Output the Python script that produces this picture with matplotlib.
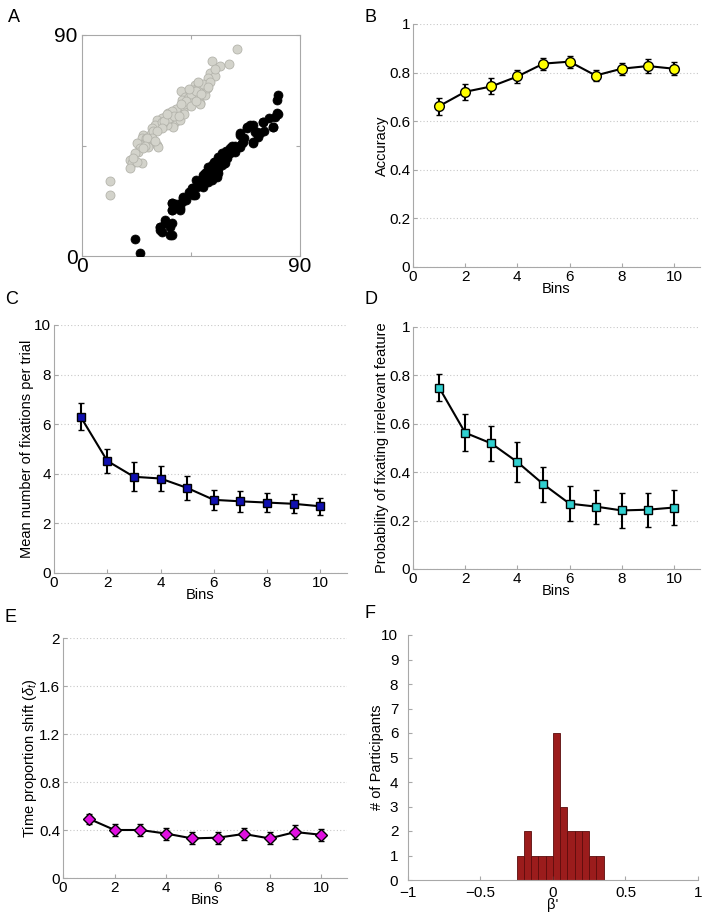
import numpy as np
import matplotlib
matplotlib.use('Agg')
import matplotlib.pyplot as plt

plt.rcParams['font.family'] = ['Liberation Sans', 'DejaVu Sans']
plt.rcParams['mathtext.fontset'] = 'custom'
plt.rcParams['mathtext.rm'] = 'Liberation Sans'
plt.rcParams['mathtext.it'] = 'Liberation Sans:italic'

# Panel A: scatter clusters
gray_x = [63.9, 53.8, 57.0, 60.8, 52.8, 54.9, 51.9, 40.9, 46.7, 48.0, 46.0, 51.7, 50.8, 44.6,
          42.5, 43.9, 46.6, 45.3, 48.7, 43.2, 41.1, 40.5, 41.8, 39.1, 37.7, 35.6, 34.3, 35.0,
          37.0, 38.4, 40.5, 32.9, 32.2, 30.8, 37.7, 35.0, 33.6, 30.1, 28.8, 29.4, 28.1, 27.4,
          25.3, 24.6, 26.0, 28.8, 30.8, 27.4, 24.6, 22.6, 24.0, 23.3, 31.5, 19.8, 21.2, 20.5,
          24.6, 19.8, 22.6, 11.7, 11.7, 48.8, 51.5, 47.4, 44.0, 42.0, 36.5, 33.0, 26.5, 29.5,
          45.0, 47.0, 49.0, 50.0, 43.0, 45.0, 47.0, 39.0, 37.0, 36.0, 38.0, 34.0, 33.0, 31.0,
          29.0, 27.0, 26.0, 25.0, 22.0, 21.0, 53.0, 55.0, 42.0, 40.0, 30.0, 35.0, 44.0, 48.0,
          52.0, 41.0]
gray_y = [84.3, 79.4, 77.4, 78.2, 74.4, 73.3, 72.4, 67.3, 69.6, 68.9, 67.6, 68.3, 65.6, 66.2,
          64.9, 64.2, 64.9, 62.9, 62.2, 61.5, 63.5, 60.8, 59.5, 58.8, 57.4, 58.1, 56.7, 55.4,
          55.4, 54.7, 55.4, 56.1, 53.4, 55.4, 52.7, 53.4, 54.0, 53.4, 52.0, 50.6, 49.3, 47.2,
          49.3, 47.9, 46.6, 46.6, 45.2, 44.5, 45.2, 45.9, 43.9, 42.5, 44.5, 39.1, 38.7, 37.8,
          37.8, 35.7, 38.4, 30.5, 24.8, 62.1, 68.3, 65.5, 63.0, 62.0, 56.0, 54.5, 48.0, 51.0,
          66.0, 67.0, 66.0, 70.0, 63.0, 61.0, 63.0, 60.0, 59.0, 56.0, 57.0, 55.0, 52.0, 51.0,
          48.0, 48.0, 45.0, 44.0, 42.0, 40.0, 71.0, 76.0, 58.0, 57.0, 47.0, 58.0, 68.0, 71.0,
          69.0, 62.0]

black_x = [80.4, 79.0, 74.9, 69.4, 68.0, 71.4, 72.8, 70.7, 65.2, 64.5, 61.8, 60.4, 57.7, 63.2,
           59.0, 57.0, 54.9, 53.5, 55.6, 57.7, 52.2, 50.8, 53.5, 54.9, 51.5, 49.4, 53.5, 55.6,
           48.0, 46.0, 50.1, 46.7, 41.8, 37.0, 40.5, 37.0, 34.3, 37.0, 32.2, 32.9, 37.0, 24.0,
           22.0, 81.0, 80.6, 81.0, 79.7, 78.8, 74.9, 70.7, 68.0, 72.1, 70.7, 73.5, 65.2, 65.2,
           62.5, 61.1, 58.4, 56.3, 57.0, 54.3, 52.2, 55.6, 52.9, 50.1, 49.5, 47.4, 45.3, 46.0,
           41.9, 37.1, 37.1, 41.2, 40.5, 32.3, 34.3, 36.4, 36.4, 32.3, 56.0, 58.5, 60.0, 55.0,
           51.0, 53.0, 59.5, 62.0, 66.5, 48.5, 50.0, 52.0, 54.0, 56.0, 58.0, 60.0, 62.0, 48.0,
           51.0, 53.0, 55.0, 57.0, 59.0, 61.0, 63.0, 49.0, 47.0, 52.0, 54.0, 56.0, 66.0, 67.0,
           75.0, 77.0, 44.0, 43.0, 39.0]
black_y = [58.1, 52.7, 54.7, 53.3, 52.0, 50.6, 48.6, 46.6, 49.3, 44.5, 43.8, 42.5, 41.8, 42.5,
           39.8, 39.1, 38.4, 37.1, 36.4, 37.1, 35.0, 33.7, 33.7, 34.3, 31.6, 31.0, 31.0, 32.3,
           28.9, 27.6, 28.2, 24.9, 23.5, 21.5, 19.4, 18.7, 14.7, 13.3, 11.9, 9.9, 8.6, 1.1,
           6.8, 65.5, 63.5, 58.0, 56.7, 52.4, 54.7, 53.3, 52.6, 50.6, 45.9, 49.9, 49.9, 44.5,
           43.8, 41.8, 40.4, 40.4, 37.7, 38.4, 36.4, 36.4, 33.6, 33.0, 30.3, 28.2, 27.5, 24.8,
           24.2, 21.7, 18.7, 22.1, 18.7, 11.9, 13.3, 11.9, 8.5, 10.6, 35.5, 38.0, 40.0, 35.0,
           32.5, 35.8, 42.8, 45.0, 46.5, 30.0, 32.0, 33.0, 35.0, 37.0, 39.0, 41.0, 43.0, 30.0,
           34.0, 36.0, 38.0, 40.0, 38.0, 44.0, 45.0, 29.0, 31.0, 30.0, 32.0, 34.0, 46.0, 48.0,
           51.0, 56.0, 26.0, 23.0, 21.0]

bins = np.arange(1, 11)

# Panel B: accuracy
acc = [0.662, 0.721, 0.743, 0.784, 0.837, 0.845, 0.788, 0.816, 0.827, 0.816]
acc_err = [0.035, 0.032, 0.033, 0.026, 0.025, 0.025, 0.022, 0.025, 0.029, 0.027]

# Panel C: fixations per trial
fix = [6.30, 4.52, 3.88, 3.81, 3.43, 2.95, 2.89, 2.84, 2.79, 2.69]
fix_err = [0.54, 0.49, 0.58, 0.50, 0.50, 0.41, 0.43, 0.37, 0.38, 0.35]

# Panel D: probability of fixating irrelevant feature
prob = [0.750, 0.563, 0.519, 0.442, 0.350, 0.270, 0.258, 0.242, 0.245, 0.254]
prob_err = [0.055, 0.077, 0.071, 0.081, 0.073, 0.072, 0.070, 0.071, 0.071, 0.071]

# Panel E: time proportion shift
shift = [0.494, 0.400, 0.400, 0.370, 0.330, 0.336, 0.367, 0.330, 0.383, 0.360]
shift_err = [0.040, 0.050, 0.050, 0.050, 0.050, 0.050, 0.050, 0.050, 0.055, 0.050]

# Panel F: histogram of beta'
hist_edges = [-0.25, -0.20, -0.15, -0.10, -0.05, 0.00, 0.05, 0.10, 0.15, 0.20, 0.25, 0.30, 0.35]
hist_counts = [1, 2, 1, 1, 1, 6, 3, 2, 2, 2, 1, 1]

spine_col = '#a8a8a8'
grid_col = '#c8c8c8'

fig = plt.figure(figsize=(7.05, 9.15), dpi=100)
W, H = 705.0, 915.0


def add_ax(left, right, top, bottom):
    return fig.add_axes([left / W, 1 - bottom / H, (right - left) / W, (bottom - top) / H])


def style(ax, grid=True):
    for s in ['top', 'right']:
        ax.spines[s].set_visible(False)
    for s in ['left', 'bottom']:
        ax.spines[s].set_color(spine_col)
        ax.spines[s].set_linewidth(0.8)
    ax.tick_params(direction='in', length=3, color=spine_col, labelsize=11, pad=2)
    if grid:
        ax.yaxis.grid(True, linestyle=(0, (1, 2)), color=grid_col, linewidth=0.8)
        ax.set_axisbelow(True)


def line_panel(ax, y, err, marker, color, ms):
    ax.errorbar(bins, y, yerr=err, color='black', lw=1.5, elinewidth=1.5, capsize=2.5,
                capthick=1.5, marker=marker, markersize=ms, markerfacecolor=color,
                markeredgecolor='black', markeredgewidth=1.0, zorder=3)
    ax.set_xlim(0, 11)
    ax.set_xticks([0, 2, 4, 6, 8, 10])
    ax.set_xlabel('Bins', fontsize=10.5, labelpad=-1)


# A
axA = add_ax(82, 300, 35, 256)
axA.scatter(gray_x, gray_y, s=42, facecolor='#d3d3cb', edgecolor='#b4b4ac', linewidth=0.6, zorder=2)
axA.scatter(black_x, black_y, s=42, facecolor='black', edgecolor='black', linewidth=0.5, zorder=3)
axA.set_xlim(0, 90)
axA.set_ylim(0, 90)
axA.set_xticks([0, 45, 90])
axA.set_yticks([0, 45, 90])
axA.set_xticklabels(['0', '', '90'])
axA.set_yticklabels(['0', '', '90'])
for s in axA.spines.values():
    s.set_color(spine_col)
    s.set_linewidth(0.8)
axA.tick_params(direction='in', length=3, color=spine_col, labelsize=15, pad=1, top=True, right=True)
axA.tick_params(axis='y', pad=3)

# B
axB = add_ax(413, 700, 24, 267)
style(axB)
line_panel(axB, acc, acc_err, 'o', '#ffff00', 7)
axB.set_ylim(0, 1)
axB.set_yticks([0, 0.2, 0.4, 0.6, 0.8, 1])
axB.set_yticklabels(['0', '0.2', '0.4', '0.6', '0.8', '1'])
axB.set_ylabel('Accuracy', fontsize=10.5, labelpad=0)

# C
axC = add_ax(54, 347, 325, 573)
style(axC)
line_panel(axC, fix, fix_err, 's', '#1010b0', 6)
axC.set_ylim(0, 10)
axC.set_yticks([0, 2, 4, 6, 8, 10])
axC.set_ylabel('Mean number of fixations per trial', fontsize=10.5, labelpad=0)

# D
axD = add_ax(413, 700, 327, 569)
style(axD)
line_panel(axD, prob, prob_err, 's', '#30d0d0', 6)
axD.set_ylim(0, 1)
axD.set_yticks([0, 0.2, 0.4, 0.6, 0.8, 1])
axD.set_yticklabels(['0', '0.2', '0.4', '0.6', '0.8', '1'])
axD.set_ylabel('Probability of fixating irrelevant feature', fontsize=10.5, labelpad=0)

# E
axE = add_ax(63, 347, 638, 878)
style(axE)
line_panel(axE, shift, shift_err, 'D', '#e010e0', 6)
axE.set_ylim(0, 2)
axE.set_yticks([0, 0.4, 0.8, 1.2, 1.6, 2])
axE.set_yticklabels(['0', '0.4', '0.8', '1.2', '1.6', '2'])
axE.set_ylabel(r'Time proportion shift ($\delta_t$)', fontsize=10.5, labelpad=0)

# F
axF = add_ax(408, 698, 635, 880)
style(axF, grid=False)
axF.stairs(hist_counts, hist_edges, fill=True, facecolor='#9b1c1c', edgecolor='#5a0c0c',
           linewidth=0.6)
for e, c0, c1 in zip(hist_edges[1:-1], hist_counts[:-1], hist_counts[1:]):
    axF.vlines(e, 0, min(c0, c1), color='#5a0c0c', linewidth=0.6)
axF.set_xlim(-1, 1)
axF.set_ylim(0, 10)
axF.set_xticks([-1, -0.5, 0, 0.5, 1])
axF.set_xticklabels(['\u22121', '\u22120.5', '0', '0.5', '1'])
axF.tick_params(axis='x', pad=4)
axF.tick_params(axis='y', pad=7)
axF.set_yticks(range(0, 11))
axF.set_xlabel("\u03b2'", fontsize=10.5, labelpad=-1)
axF.set_ylabel('# of Participants', fontsize=10.5, labelpad=-2)

# panel letters
for txt, x, y in [('A', 8, 18), ('B', 365, 18), ('C', 5, 300), ('D', 365, 300),
                  ('E', 5, 618), ('F', 365, 614)]:
    fig.text(x / W, 1 - y / H, txt, fontsize=13, ha='left', va='center')

fig.savefig('out.png', dpi=100)
